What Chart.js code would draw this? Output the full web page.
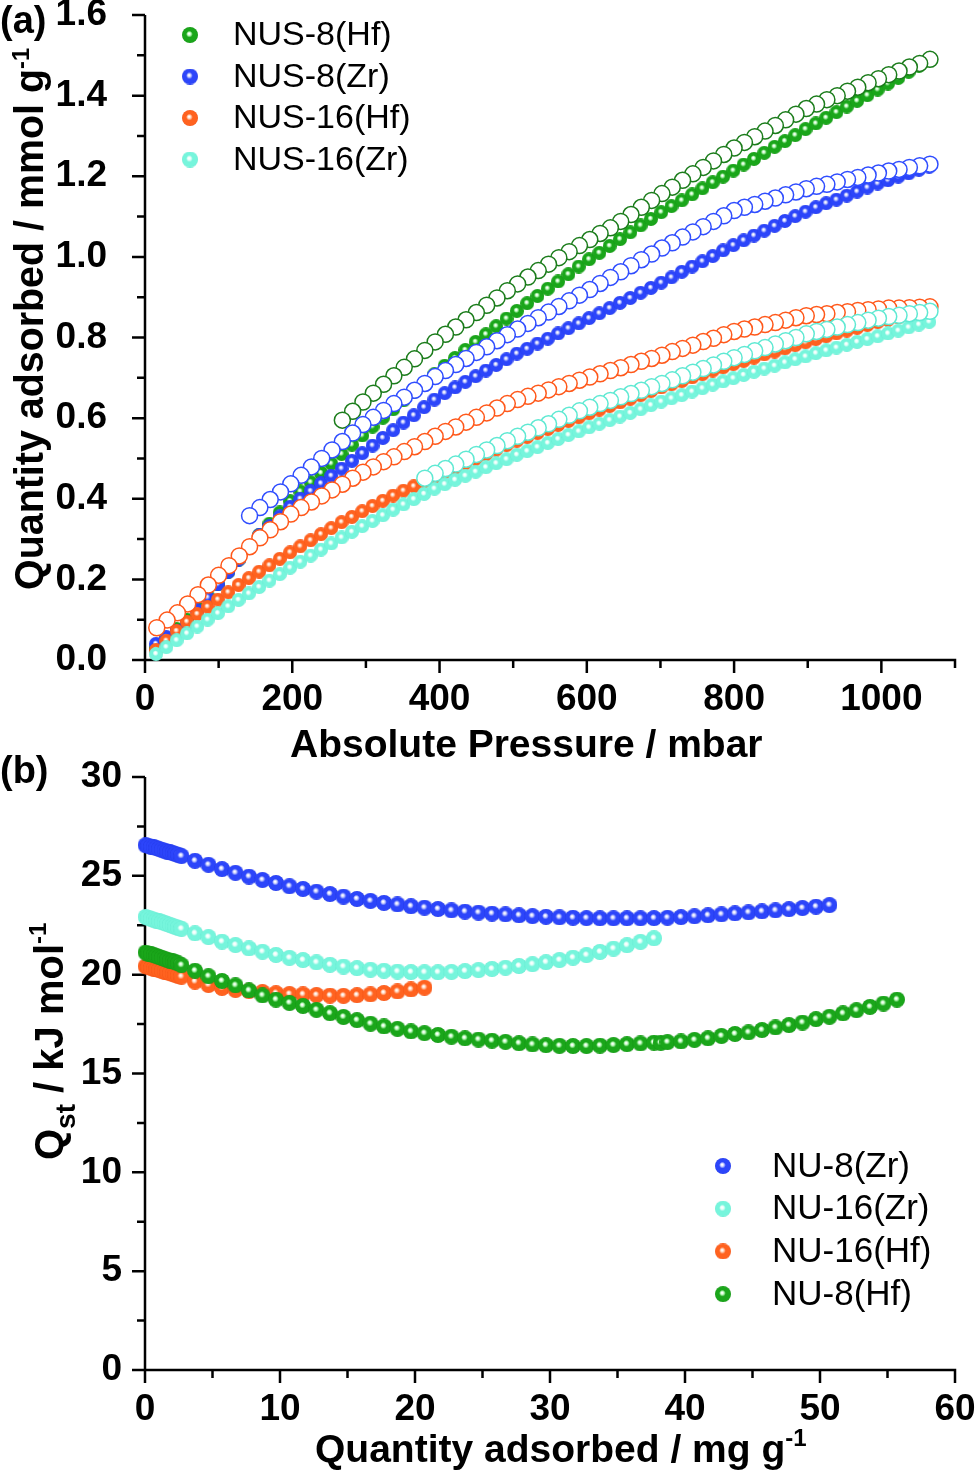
<!DOCTYPE html>
<html>
<head>
<meta charset="utf-8">
<script src="https://cdn.jsdelivr.net/npm/chart.js@4.4.0/dist/chart.umd.min.js"></script>
<style>
html,body{margin:0;padding:0;background:#fff;}
#wrapA{position:absolute;left:0;top:0;width:980px;height:760px;}
#wrapB{position:absolute;left:0;top:740px;width:980px;height:739px;}
</style>
</head>
<body>
<div id="wrapA"><canvas id="cA"></canvas></div>
<div id="wrapB"><canvas id="cB"></canvas></div>
<script>
// ---------------- Panel (a): CO2 isotherms ----------------
const pressureAds = [15,29,43,57,71,85,99,113,127,141,155,169,183,197,211,225,239,253,267,281,295,309,323,337,351,365,379,393,407,421,435,449,463,477,491,505,519,533,547,561,575,589,603,617,631,645,659,673,687,701,715,729,743,757,771,785,799,813,827,841,855,869,883,897,911,925,939,953,967,981,995,1009,1023,1037,1051,1065];
const pressureDes = [1066,1052,1038,1024,1010,996,982,968,954,940,926,912,898,884,870,856,842,828,814,800,786,772,758,744,730,716,702,688,674,660,646,632,618,604,590,576,562,548,534,520,506,492,478,464,450,436,422,408,394,380,366,352,338,324,310,296,282,268,254,240,226,212,198,184,170,156,142,128,114,100,86,72,58,44,30,16];

const adsHf8 = [0.030,0.053,0.077,0.100,0.129,0.159,0.188,0.219,0.249,0.280,0.310,0.338,0.366,0.394,0.418,0.441,0.464,0.487,0.511,0.534,0.557,0.579,0.601,0.622,0.644,0.666,0.687,0.709,0.730,0.749,0.769,0.789,0.808,0.828,0.847,0.866,0.885,0.903,0.921,0.939,0.957,0.976,0.994,1.010,1.027,1.044,1.061,1.078,1.094,1.111,1.126,1.140,1.155,1.170,1.185,1.199,1.214,1.229,1.243,1.258,1.273,1.287,1.302,1.317,1.331,1.345,1.359,1.373,1.387,1.401,1.415,1.430,1.444,1.459,1.474,1.489];
const adsZr8 = [0.040,0.057,0.073,0.090,0.123,0.155,0.188,0.219,0.249,0.280,0.309,0.332,0.356,0.380,0.400,0.419,0.438,0.457,0.475,0.494,0.513,0.532,0.551,0.570,0.589,0.607,0.627,0.646,0.662,0.676,0.690,0.704,0.718,0.732,0.746,0.760,0.772,0.785,0.797,0.810,0.823,0.835,0.848,0.860,0.873,0.886,0.898,0.911,0.923,0.936,0.949,0.963,0.976,0.989,1.002,1.016,1.029,1.041,1.053,1.065,1.077,1.089,1.101,1.112,1.123,1.133,1.142,1.152,1.162,1.172,1.182,1.190,1.199,1.207,1.216,1.224];
const adsHf16 = [0.025,0.048,0.072,0.095,0.114,0.132,0.150,0.168,0.186,0.203,0.219,0.235,0.251,0.267,0.282,0.297,0.312,0.327,0.342,0.355,0.369,0.382,0.395,0.408,0.420,0.431,0.443,0.454,0.466,0.477,0.488,0.499,0.510,0.522,0.533,0.544,0.553,0.563,0.573,0.583,0.593,0.602,0.612,0.621,0.630,0.639,0.648,0.657,0.667,0.676,0.684,0.692,0.701,0.709,0.718,0.726,0.734,0.742,0.750,0.758,0.765,0.773,0.781,0.788,0.796,0.803,0.810,0.817,0.824,0.831,0.838,0.844,0.850,0.857,0.863,0.870];
const adsZr16 = [0.015,0.032,0.049,0.066,0.083,0.100,0.116,0.133,0.149,0.165,0.181,0.197,0.213,0.229,0.244,0.259,0.274,0.289,0.304,0.318,0.332,0.345,0.359,0.373,0.386,0.399,0.412,0.425,0.436,0.447,0.457,0.467,0.478,0.488,0.498,0.509,0.518,0.528,0.538,0.548,0.558,0.567,0.577,0.586,0.595,0.604,0.613,0.622,0.632,0.641,0.649,0.657,0.666,0.674,0.683,0.691,0.699,0.707,0.715,0.723,0.730,0.738,0.746,0.753,0.761,0.768,0.775,0.782,0.789,0.796,0.803,0.810,0.817,0.825,0.832,0.839];

const desHf8 = [1.490,1.480,1.471,1.461,1.452,1.442,1.432,1.421,1.411,1.400,1.390,1.379,1.368,1.354,1.340,1.326,1.312,1.298,1.284,1.270,1.254,1.238,1.222,1.206,1.190,1.173,1.157,1.140,1.123,1.105,1.088,1.072,1.058,1.043,1.028,1.013,0.998,0.982,0.966,0.950,0.933,0.916,0.898,0.880,0.862,0.844,0.826,0.808,0.789,0.768,0.747,0.726,0.705,0.684,0.662,0.640,0.617,0.595];
const desZr8 = [1.230,1.226,1.222,1.217,1.213,1.208,1.203,1.197,1.192,1.186,1.180,1.175,1.169,1.161,1.154,1.146,1.138,1.130,1.123,1.115,1.102,1.088,1.075,1.062,1.049,1.035,1.022,1.007,0.993,0.978,0.963,0.949,0.934,0.919,0.905,0.891,0.877,0.863,0.849,0.835,0.821,0.807,0.792,0.777,0.763,0.748,0.733,0.718,0.703,0.686,0.669,0.652,0.636,0.619,0.602,0.584,0.563,0.542,0.521,0.500,0.479,0.458,0.437,0.417,0.398,0.378,0.358];
const desHf16 = [0.876,0.875,0.874,0.873,0.873,0.871,0.869,0.867,0.864,0.862,0.859,0.857,0.854,0.849,0.843,0.837,0.832,0.826,0.821,0.815,0.807,0.798,0.790,0.781,0.773,0.765,0.756,0.748,0.741,0.733,0.725,0.718,0.710,0.702,0.694,0.686,0.678,0.670,0.662,0.654,0.646,0.636,0.625,0.613,0.602,0.590,0.578,0.567,0.555,0.542,0.529,0.517,0.504,0.492,0.479,0.466,0.451,0.436,0.422,0.407,0.392,0.378,0.362,0.343,0.323,0.303,0.281,0.258,0.234,0.210,0.186,0.162,0.139,0.117,0.099,0.080];
const desZr16 = [0.865,0.862,0.859,0.855,0.852,0.848,0.843,0.837,0.832,0.826,0.820,0.815,0.809,0.800,0.792,0.784,0.775,0.767,0.758,0.750,0.741,0.732,0.723,0.714,0.705,0.695,0.686,0.678,0.669,0.661,0.653,0.644,0.636,0.627,0.618,0.607,0.597,0.586,0.576,0.565,0.555,0.544,0.532,0.521,0.510,0.498,0.486,0.475,0.463,0.451];

const namesA = ['NUS-8(Hf)','NUS-8(Zr)','NUS-16(Hf)','NUS-16(Zr)'];
const pressureTicks = [0,200,400,600,800,1000];
const pressureTickLabels = ['0','200','400','600','800','1000'];
const pressureMinorTicks = [100,300,500,700,900,1100];
const uptakeTicks = [0,0.2,0.4,0.6,0.8,1.0,1.2,1.4,1.6];
const uptakeTickLabels = ['0.0','0.2','0.4','0.6','0.8','1.0','1.2','1.4','1.6'];
const uptakeMinorTicks = [0.1,0.3,0.5,0.7,0.9,1.1,1.3,1.5];

// ---------------- Panel (b): isosteric heat ----------------
const loadZr8 = [0.05,0.25,0.45,0.65,0.85,1.05,1.25,1.45,1.65,1.85,2.05,2.25,2.45,2.7,3.7,4.7,5.7,6.7,7.7,8.7,9.7,10.7,11.7,12.7,13.7,14.7,15.7,16.7,17.7,18.7,19.7,20.7,21.7,22.7,23.7,24.7,25.7,26.7,27.7,28.7,29.7,30.7,31.7,32.7,33.7,34.7,35.7,36.7,37.7,38.7,39.7,40.7,41.7,42.7,43.7,44.7,45.7,46.7,47.7,48.7,49.7,50.7];
const qstZr8 = [26.55,26.52,26.47,26.44,26.40,26.36,26.32,26.28,26.23,26.19,26.15,26.11,26.07,26.00,25.76,25.56,25.34,25.15,24.96,24.79,24.64,24.47,24.34,24.20,24.08,23.95,23.83,23.73,23.63,23.55,23.46,23.39,23.32,23.25,23.19,23.14,23.09,23.05,23.00,22.96,22.93,22.90,22.88,22.86,22.85,22.85,22.85,22.85,22.86,22.88,22.91,22.95,23.00,23.05,23.10,23.15,23.20,23.25,23.31,23.37,23.44,23.52];
const loadZr16 = [0.05,0.25,0.45,0.65,0.85,1.05,1.25,1.45,1.65,1.85,2.05,2.25,2.45,2.7,3.7,4.7,5.7,6.7,7.7,8.7,9.7,10.7,11.7,12.7,13.7,14.7,15.7,16.7,17.7,18.7,19.7,20.7,21.7,22.7,23.7,24.7,25.7,26.7,27.7,28.7,29.7,30.7,31.7,32.7,33.7,34.7,35.7,36.7,37.7];
const qstZr16 = [22.92,22.88,22.83,22.79,22.74,22.70,22.65,22.61,22.56,22.52,22.47,22.43,22.38,22.32,22.09,21.90,21.67,21.50,21.33,21.16,21.00,20.85,20.74,20.62,20.50,20.41,20.33,20.25,20.20,20.16,20.13,20.12,20.12,20.14,20.18,20.23,20.29,20.35,20.44,20.53,20.63,20.74,20.86,20.99,21.15,21.32,21.49,21.66,21.84];
const loadHf16 = [0.05,0.25,0.45,0.65,0.85,1.05,1.25,1.45,1.65,1.85,2.05,2.25,2.45,2.7,3.7,4.7,5.7,6.7,7.7,8.7,9.7,10.7,11.7,12.7,13.7,14.7,15.7,16.7,17.7,18.7,19.7,20.7];
const qstHf16 = [20.42,20.38,20.34,20.30,20.27,20.23,20.19,20.15,20.11,20.07,20.03,19.99,19.95,19.90,19.65,19.48,19.33,19.23,19.17,19.12,19.06,19.02,19.00,18.97,18.94,18.93,18.96,19.00,19.07,19.15,19.25,19.34];
const loadHf8 = [0.05,0.25,0.45,0.65,0.85,1.05,1.25,1.45,1.65,1.85,2.05,2.25,2.45,2.7,3.7,4.7,5.7,6.7,7.7,8.7,9.7,10.7,11.7,12.7,13.7,14.7,15.7,16.7,17.7,18.7,19.7,20.7,21.7,22.7,23.7,24.7,25.7,26.7,27.7,28.7,29.7,30.7,31.7,32.7,33.7,34.7,35.7,36.7,37.7,38.2,38.7,39.7,40.7,41.7,42.7,43.7,44.7,45.7,46.7,47.7,48.7,49.7,50.7,51.7,52.7,53.7,54.7,55.7];
const qstHf8 = [21.12,21.07,21.03,20.98,20.94,20.89,20.85,20.80,20.76,20.71,20.67,20.62,20.57,20.48,20.20,19.92,19.68,19.46,19.20,18.95,18.74,18.57,18.42,18.22,18.05,17.86,17.70,17.52,17.38,17.26,17.13,17.04,16.95,16.86,16.78,16.72,16.66,16.60,16.53,16.47,16.43,16.40,16.39,16.39,16.41,16.44,16.48,16.52,16.56,16.55,16.59,16.62,16.70,16.78,16.90,17.00,17.08,17.20,17.33,17.45,17.58,17.75,17.87,18.04,18.20,18.37,18.54,18.74];

const namesB = ['NU-8(Zr)','NU-16(Zr)','NU-16(Hf)','NU-8(Hf)'];
const loadingTicks = [0,10,20,30,40,50,60];
const loadingTickLabels = ['0','10','20','30','40','50','60'];
const loadingMinorTicks = [5,15,25,35,45,55];
const qstTicks = [0,5,10,15,20,25,30];
const qstTickLabels = ['0','5','10','15','20','25','30'];
const qstMinorTicks = [2.5,7.5,12.5,17.5,22.5,27.5];

// ---------------- helpers ----------------
const FAM = "'Liberation Sans', Arial, Helvetica, sans-serif";
const COL = {
  green:  {base:'#1aa61a', dark:'#149414', light:'#b8f8b8', ring:'#1b7c1b'},
  blue:   {base:'#2c45fa', dark:'#2339e6', light:'#c2c9ff', ring:'#2f4dff'},
  orange: {base:'#ff621f', dark:'#f35316', light:'#ffd0b6', ring:'#ff581a'},
  cyan:   {base:'#76f5dc', dark:'#66ead2', light:'#e2fff9', ring:'#5fe9d3'}
};
function sphere(d, c) {
  const cv = document.createElement('canvas');
  cv.width = d; cv.height = d;
  const g = cv.getContext('2d');
  const r = d / 2;
  const grad = g.createRadialGradient(r - 0.12 * r, r - 0.18 * r, 0, r, r, r);
  grad.addColorStop(0, '#ffffff');
  grad.addColorStop(0.07, '#ffffff');
  grad.addColorStop(0.22, c.light);
  grad.addColorStop(0.42, c.base);
  grad.addColorStop(0.9, c.base);
  grad.addColorStop(1, c.dark);
  g.fillStyle = grad;
  g.beginPath(); g.arc(r, r, r, 0, Math.PI * 2); g.fill();
  return cv;
}
function pts(xs, ys) { return ys.map((v, i) => ({x: xs[i], y: v})); }

function drawRich(ctx, segs, x, y, rot, sx, align) {
  ctx.save();
  ctx.translate(x, y);
  ctx.rotate(rot);
  ctx.scale(sx, 1);
  ctx.fillStyle = '#000';
  ctx.textBaseline = 'alphabetic';
  ctx.textAlign = 'left';
  let total = 0;
  segs.forEach(s => { ctx.font = s.font; total += ctx.measureText(s.t).width; });
  let cx = align === 'center' ? -total / 2 : 0;
  segs.forEach(s => {
    ctx.font = s.font;
    ctx.fillText(s.t, cx, s.dy || 0);
    cx += ctx.measureText(s.t).width;
  });
  ctx.restore();
}

const framePlugin = {
  id: 'frame',
  beforeDatasetsDraw(chart, args, o) {
    const ctx = chart.ctx, a = chart.chartArea;
    const xs = chart.scales.x, ys = chart.scales.y;
    ctx.save();
    ctx.strokeStyle = '#000';
    ctx.lineWidth = o.lw;
    ctx.beginPath();
    ctx.moveTo(a.left, a.top); ctx.lineTo(a.left, a.bottom + o.lw / 2);
    ctx.moveTo(a.left - o.lw / 2, a.bottom); ctx.lineTo(a.right + o.lw / 2, a.bottom);
    o.xMajor.forEach(v => { const p = xs.getPixelForValue(v); ctx.moveTo(p, a.bottom); ctx.lineTo(p, a.bottom + o.major); });
    o.xMinor.forEach(v => { const p = xs.getPixelForValue(v); ctx.moveTo(p, a.bottom); ctx.lineTo(p, a.bottom + o.minor); });
    o.yMajor.forEach(v => { const p = ys.getPixelForValue(v); ctx.moveTo(a.left, p); ctx.lineTo(a.left - o.major, p); });
    o.yMinor.forEach(v => { const p = ys.getPixelForValue(v); ctx.moveTo(a.left, p); ctx.lineTo(a.left - o.minor, p); });
    ctx.stroke();
    ctx.restore();
  },
  afterDraw(chart, args, o) {
    const ctx = chart.ctx;
    o.texts.forEach(t => drawRich(ctx, t.segs, t.x, t.y, t.rot || 0, t.sx || 1, t.align));
    const L = o.legend;
    ctx.save();
    L.items.forEach((di, k) => {
      const ds = chart.data.datasets[di];
      const y = L.y + k * L.dy;
      const img = L.icons[k];
      ctx.drawImage(img, L.x - img.width / 2, y - img.height / 2);
      ctx.font = L.font;
      ctx.fillStyle = '#000';
      ctx.textBaseline = 'middle';
      ctx.textAlign = 'left';
      ctx.fillText(ds.label, L.tx, y + 1);
    });
    ctx.restore();
  }
};

function tickFont() { return {family: FAM, size: 37, weight: 'bold', lineHeight: 1.2}; }
function makeScale(min, max, vals, labels, pad, fitSize, isX) {
  return {
    type: 'linear', min: min, max: max,
    grid: {display: false, drawTicks: false},
    border: {display: false},
    afterBuildTicks: s => { s.ticks = vals.map(v => ({value: v})); },
    afterFit: s => {
      if (isX) s.height = fitSize; else s.width = fitSize;
      s.paddingTop = 0; s.paddingBottom = 0; s.paddingLeft = 0; s.paddingRight = 0;
    },
    ticks: {
      autoSkip: false, maxRotation: 0, minRotation: 0, padding: pad,
      color: '#000', font: tickFont(),
      callback: (v, i) => labels[i]
    }
  };
}

Chart.register(framePlugin);

// ---------------- Chart (a) ----------------
const sA = 14;
const filledA = (label, xs, ys, c, order) => ({
  label: label, data: pts(xs, ys), pointStyle: sphere(sA, c), pointRadius: 7,
  showLine: false, order: order, clip: false
});
const openA = (label, xs, ys, c, order) => ({
  label: label + ' des', data: pts(xs, ys), pointStyle: 'circle', pointRadius: 8,
  pointBackgroundColor: '#ffffff', pointBorderColor: c.ring, pointBorderWidth: 1.5,
  showLine: false, order: order, clip: false
});

new Chart(document.getElementById('cA'), {
  type: 'scatter',
  data: {
    datasets: [
      filledA(namesA[0], pressureAds, adsHf8, COL.green, 8),
      filledA(namesA[1], pressureAds, adsZr8, COL.blue, 7),
      filledA(namesA[2], pressureAds, adsHf16, COL.orange, 6),
      filledA(namesA[3], pressureAds, adsZr16, COL.cyan, 5),
      openA(namesA[0], pressureDes, desHf8, COL.green, 4),
      openA(namesA[1], pressureDes, desZr8, COL.blue, 3),
      openA(namesA[2], pressureDes, desHf16, COL.orange, 2),
      openA(namesA[3], pressureDes, desZr16, COL.cyan, 1)
    ]
  },
  options: {
    responsive: true, maintainAspectRatio: false, animation: false,
    layout: {padding: {left: 0, right: 25, top: 15, bottom: 0}},
    scales: {
      x: makeScale(0, 1100, pressureTicks, pressureTickLabels, 18, 100, true),
      y: makeScale(0, 1.6, uptakeTicks, uptakeTickLabels, 38, 145, false)
    },
    plugins: {
      legend: {display: false},
      tooltip: {enabled: false},
      frame: {
        lw: 2.5, major: 13, minor: 8,
        xMajor: pressureTicks, xMinor: pressureMinorTicks,
        yMajor: uptakeTicks, yMinor: uptakeMinorTicks,
        texts: [
          {segs: [{t: '(a)', font: 'bold 38px ' + FAM}], x: 0, y: 33},
          {segs: [{t: 'Absolute Pressure / mbar', font: 'bold 39px ' + FAM}], x: 290, y: 757},
          {segs: [{t: 'Quantity adsorbed / mmol g', font: 'bold 40px ' + FAM}, {t: '-1', font: 'bold 24px ' + FAM, dy: -14}],
           x: 43, y: 590, rot: -Math.PI / 2, sx: 0.985}
        ],
        legend: {items: [0, 1, 2, 3], x: 190, y: 35, dy: 41.5, tx: 233, font: '34px ' + FAM,
          icons: [sphere(16, COL.green), sphere(16, COL.blue), sphere(16, COL.orange), sphere(16, COL.cyan)]}
      }
    }
  }
});

// ---------------- Chart (b) ----------------
const sB = 16;
const filledB = (label, xs, ys, c, order) => ({
  label: label, data: pts(xs, ys), pointStyle: sphere(sB, c), pointRadius: 8,
  showLine: false, order: order, clip: false
});

new Chart(document.getElementById('cB'), {
  type: 'scatter',
  data: {
    datasets: [
      filledB(namesB[0], loadZr8, qstZr8, COL.blue, 4),
      filledB(namesB[1], loadZr16, qstZr16, COL.cyan, 3),
      filledB(namesB[2], loadHf16, qstHf16, COL.orange, 2),
      filledB(namesB[3], loadHf8, qstHf8, COL.green, 1)
    ]
  },
  options: {
    responsive: true, maintainAspectRatio: false, animation: false,
    layout: {padding: {left: 0, right: 25, top: 37, bottom: 0}},
    scales: {
      x: makeScale(0, 60, loadingTicks, loadingTickLabels, 18, 109, true),
      y: makeScale(0, 30, qstTicks, qstTickLabels, 23, 145, false)
    },
    plugins: {
      legend: {display: false},
      tooltip: {enabled: false},
      frame: {
        lw: 2.5, major: 13, minor: 8,
        xMajor: loadingTicks, xMinor: loadingMinorTicks,
        yMajor: qstTicks, yMinor: qstMinorTicks,
        texts: [
          {segs: [{t: '(b)', font: 'bold 38px ' + FAM}], x: 0, y: 43},
          {segs: [{t: 'Quantity adsorbed / mg g', font: 'bold 39px ' + FAM}, {t: '-1', font: 'bold 24px ' + FAM, dy: -16}],
           x: 315, y: 722},
          {segs: [{t: 'Q', font: 'bold 40px ' + FAM}, {t: 'st', font: 'bold 28px ' + FAM, dy: 12},
                  {t: ' / kJ mol', font: 'bold 40px ' + FAM}, {t: '-1', font: 'bold 24px ' + FAM, dy: -17}],
           x: 63, y: 420, rot: -Math.PI / 2, sx: 1.0}
        ],
        legend: {items: [0, 1, 2, 3], x: 723, y: 426, dy: 42.7, tx: 772, font: '35px ' + FAM,
          icons: [sphere(16, COL.blue), sphere(16, COL.cyan), sphere(16, COL.orange), sphere(16, COL.green)]}
      }
    }
  }
});
</script>
</body>
</html>
